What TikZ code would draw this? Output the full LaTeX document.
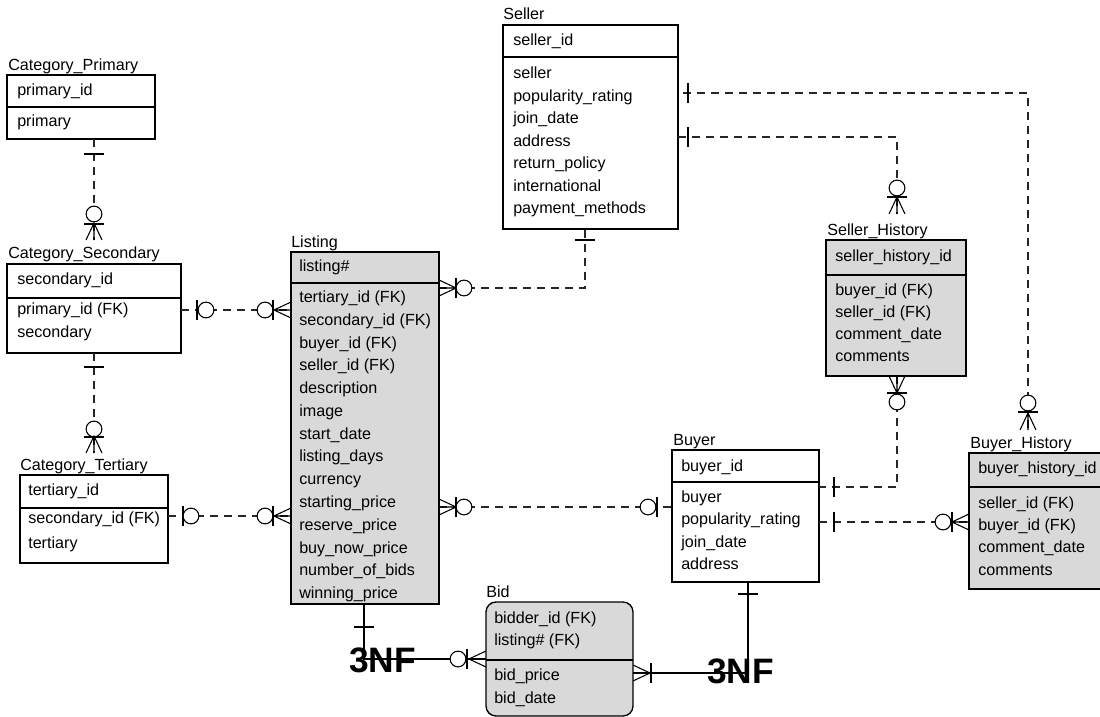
\documentclass[tikz,border=0pt]{standalone}
\usepackage{fontspec}
\setmainfont{Liberation Sans}
\usetikzlibrary{fit}
\definecolor{tblgray}{RGB}{217,217,217}
\newcommand\fld[4]{\node[fld] (#1) at (#2,#3) {#4};}
\newcommand\ttl[4]{\node[ttlstyle] (#1) at (#2,#3) {#4};}
\begin{document}
\begin{tikzpicture}[x=0.75pt,y=-0.75pt,
  tbl/.style={draw=black, line width=1pt, inner sep=0pt},
  gtbl/.style={tbl, fill=tblgray},
  divline/.style={draw=black, line width=1pt},
  fld/.style={anchor=mid west, inner sep=0pt, font=\fontsize{12.1}{14}\selectfont},
  ttlstyle/.style={anchor=base west, inner sep=0pt, font=\fontsize{12.1}{14}\selectfont},
  nf/.style={anchor=base west, inner sep=0pt, font=\fontsize{26.5}{28}\selectfont\bfseries},
  conn/.style={line width=0.8pt, draw=black!85, dash pattern=on 6pt off 4.5pt},
  solidconn/.style={line width=0.8pt, draw=black},
  sym/.style={line width=0.8pt, draw=black},
  pics/bar/.style={code={\draw[sym] (0,-10)--(0,10);}},
  pics/ring/.style={code={\draw[sym,fill=white] (0,0) circle[radius=5.9pt];}},
  pics/foot/.style={code={\draw[sym] (0,8)--(17,0)--(0,-8) (0,0)--(17,0);}},
]
\useasboundingbox (0,0) rectangle (1100,717);

% ---------- tables ----------
% Category_Primary
\node[tbl, fit={(7,75)(155,139)}] (cp) {};
\draw[divline] (7,107) -- (155,107);
\ttl{cpT}{8}{71}{Category\_Primary}
\fld{cp1}{17}{92}{primary\_id}
\fld{cp2}{17}{123}{primary}

% Category_Secondary
\node[tbl, fit={(7,264)(181,353)}] (cs) {};
\draw[divline] (7,298) -- (181,298);
\ttl{csT}{8}{258}{Category\_Secondary}
\fld{cs1}{17}{281}{secondary\_id}
\fld{cs2}{17}{311}{primary\_id (FK)}
\fld{cs3}{17}{334}{secondary}

% Category_Tertiary
\node[tbl, fit={(20,475)(168,563)}] (ct) {};
\draw[divline] (20,508) -- (168,508);
\ttl{ctT}{20}{470}{Category\_Tertiary}
\fld{ct1}{28}{492}{tertiary\_id}
\fld{ct2}{28}{520}{secondary\_id (FK)}
\fld{ct3}{28}{545}{tertiary}

% Listing
\node[gtbl, fit={(291,252)(439,604)}] (lst) {};
\draw[divline] (291,283) -- (439,283);
\ttl{lstT}{291}{247}{Listing}
\fld{l0}{299}{268}{listing\#}
\fld{l1}{299}{299}{tertiary\_id (FK)}
\fld{l2}{299}{321.8}{secondary\_id (FK)}
\fld{l3}{299}{344.5}{buyer\_id (FK)}
\fld{l4}{299}{367.3}{seller\_id (FK)}
\fld{l5}{299}{390.1}{description}
\fld{l6}{299}{412.8}{image}
\fld{l7}{299}{435.6}{start\_date}
\fld{l8}{299}{458.4}{listing\_days}
\fld{l9}{299}{481.2}{currency}
\fld{l10}{299}{503.9}{starting\_price}
\fld{l11}{299}{526.7}{reserve\_price}
\fld{l12}{299}{549.5}{buy\_now\_price}
\fld{l13}{299}{572.2}{number\_of\_bids}
\fld{l14}{299}{595}{winning\_price}

% Seller
\node[tbl, fit={(503,25)(678,229)}] (sel) {};
\draw[divline] (503,57) -- (678,57);
\ttl{selT}{503}{20}{Seller}
\fld{s0}{513}{42}{seller\_id}
\fld{s1}{513}{75}{seller}
\fld{s2}{513}{97.5}{popularity\_rating}
\fld{s3}{513}{120}{join\_date}
\fld{s4}{513}{142.5}{address}
\fld{s5}{513}{165}{return\_policy}
\fld{s6}{513}{187.5}{international}
\fld{s7}{513}{210}{payment\_methods}

% Seller_History
\node[gtbl, fit={(826,240)(966,376)}] (sh) {};
\draw[divline] (826,275) -- (966,275);
\ttl{shT}{827}{235}{Seller\_History}
\fld{sh0}{835}{258}{seller\_history\_id}
\fld{sh1}{835}{292}{buyer\_id (FK)}
\fld{sh2}{835}{314}{seller\_id (FK)}
\fld{sh3}{835}{336}{comment\_date}
\fld{sh4}{835}{358}{comments}

% Buyer
\node[tbl, fit={(672,450)(819,582)}] (buy) {};
\draw[divline] (672,482) -- (819,482);
\ttl{buyT}{673}{445}{Buyer}
\fld{b0}{681}{468}{buyer\_id}
\fld{b1}{681}{499}{buyer}
\fld{b2}{681}{521}{popularity\_rating}
\fld{b3}{681}{544}{join\_date}
\fld{b4}{681}{566}{address}

% Buyer_History
\node[gtbl, fit={(969,453)(1103,589)}] (bh) {};
\draw[divline] (969,487) -- (1103,487);
\ttl{bhT}{970}{448}{Buyer\_History}
\fld{bh0}{978}{470}{buyer\_history\_id}
\fld{bh1}{978}{505}{seller\_id (FK)}
\fld{bh2}{978}{527}{buyer\_id (FK)}
\fld{bh3}{978}{549}{comment\_date}
\fld{bh4}{978}{572}{comments}

% Bid
\node[gtbl, rounded corners=7.5pt, fit={(486,602)(633,716)}] (bid) {};
\draw[divline] (486,660) -- (633,660);
\ttl{bidT}{486}{597}{Bid}
\fld{bd0}{494}{620}{bidder\_id (FK)}
\fld{bd1}{494}{642}{listing\# (FK)}
\fld{bd2}{494}{677}{bid\_price}
\fld{bd3}{494}{700}{bid\_date}

% 3NF labels
\node[nf] (nfA) at (349,672) {3NF};
\node[nf] (nfB) at (707,683) {3NF};

% ---------- connectors ----------
% Category_Primary -- Category_Secondary
\coordinate (c1a) at (94,139); \coordinate (c1b) at (94,240);
\draw[conn] (c1a) -- (c1b);
\pic[rotate=90] at (94,154) {bar};
\pic at (94,214) {ring};
\pic[rotate=90] at (94,224) {bar};
\pic[rotate=90] at (c1b) {foot};

% Category_Secondary -- Category_Tertiary
\coordinate (c2a) at (94,353); \coordinate (c2b) at (94,453);
\draw[conn] (c2a) -- (c2b);
\pic[rotate=90] at (94,367) {bar};
\pic at (94,429) {ring};
\pic[rotate=90] at (94,437) {bar};
\pic[rotate=90] at (c2b) {foot};

% Category_Secondary -- Listing
\coordinate (c3a) at (181,310); \coordinate (c3b) at (291,310);
\draw[conn] (c3a) -- (c3b);
\pic at (197,310) {bar};
\pic at (206,310) {ring};
\pic at (265,310) {ring};
\pic at (273,310) {bar};
\pic[rotate=180] at (c3b) {foot};

% Category_Tertiary -- Listing
\coordinate (c4a) at (168,516); \coordinate (c4b) at (291,516);
\draw[conn] (c4a) -- (c4b);
\pic at (183,516) {bar};
\pic at (191,516) {ring};
\pic at (265,516) {ring};
\pic at (273,516) {bar};
\pic[rotate=180] at (c4b) {foot};

% Listing -- Seller
\coordinate (c5a) at (439,288); \coordinate (c5b) at (585,229);
\draw[conn] (c5a) -- (c5a -| c5b) -- (c5b);
\pic at (c5a) {foot};
\pic at (456,288) {bar};
\pic at (464,288) {ring};
\pic[rotate=90] at (585,240) {bar};

% Listing -- Buyer
\coordinate (c6a) at (439,507); \coordinate (c6b) at (672,507);
\draw[conn] (c6a) -- (c6b);
\pic at (c6a) {foot};
\pic at (456,507) {bar};
\pic at (464,507) {ring};
\pic at (648,507) {ring};
\pic at (657,507) {bar};

% Seller -- Seller_History
\coordinate (c7a) at (678,137); \coordinate (c7b) at (897,214);
\draw[conn] (c7a) -- (c7a -| c7b) -- (c7b);
\pic at (688,137) {bar};
\pic at (897,188) {ring};
\pic[rotate=90] at (897,197) {bar};
\pic[rotate=90] at (c7b) {foot};

% Seller -- Buyer_History
\coordinate (c8a) at (683,93); \coordinate (c8b) at (1028,430);
\draw[conn] (c8a) -- (c8a -| c8b) -- (c8b);
\pic at (688,93) {bar};
\pic at (1028,403) {ring};
\pic[rotate=90] at (1028,412) {bar};
\pic[rotate=90] at (c8b) {foot};

% Seller_History -- Buyer
\coordinate (c9a) at (897,376); \coordinate (c9b) at (819,487);
\draw[conn] (c9a) -- (c9a |- c9b) -- (c9b);
\pic[rotate=-90] at (c9a) {foot};
\pic[rotate=90] at (897,393) {bar};
\pic at (897,402) {ring};
\pic at (834,487) {bar};

% Buyer -- Buyer_History
\coordinate (c10a) at (819,522); \coordinate (c10b) at (969,522);
\draw[conn] (c10a) -- (c10b);
\pic at (834,522) {bar};
\pic at (943,522) {ring};
\pic at (952,522) {bar};
\pic[rotate=180] at (c10b) {foot};

% Listing -- Bid
\coordinate (c11a) at (364,604); \coordinate (c11b) at (486,659);
\draw[solidconn] (c11a) -- (c11a |- c11b) -- (c11b);
\pic[rotate=90] at (364,627) {bar};
\pic at (458,659) {ring};
\pic at (467,659) {bar};
\pic[rotate=180] at (c11b) {foot};

% Buyer -- Bid
\coordinate (c12a) at (748,582); \coordinate (c12b) at (633,673);
\draw[solidconn] (c12a) -- (c12a |- c12b) -- (c12b);
\pic[rotate=90] at (748,594) {bar};
\pic at (c12b) {foot};
\pic at (651,673) {bar};
\end{tikzpicture}
\end{document}
